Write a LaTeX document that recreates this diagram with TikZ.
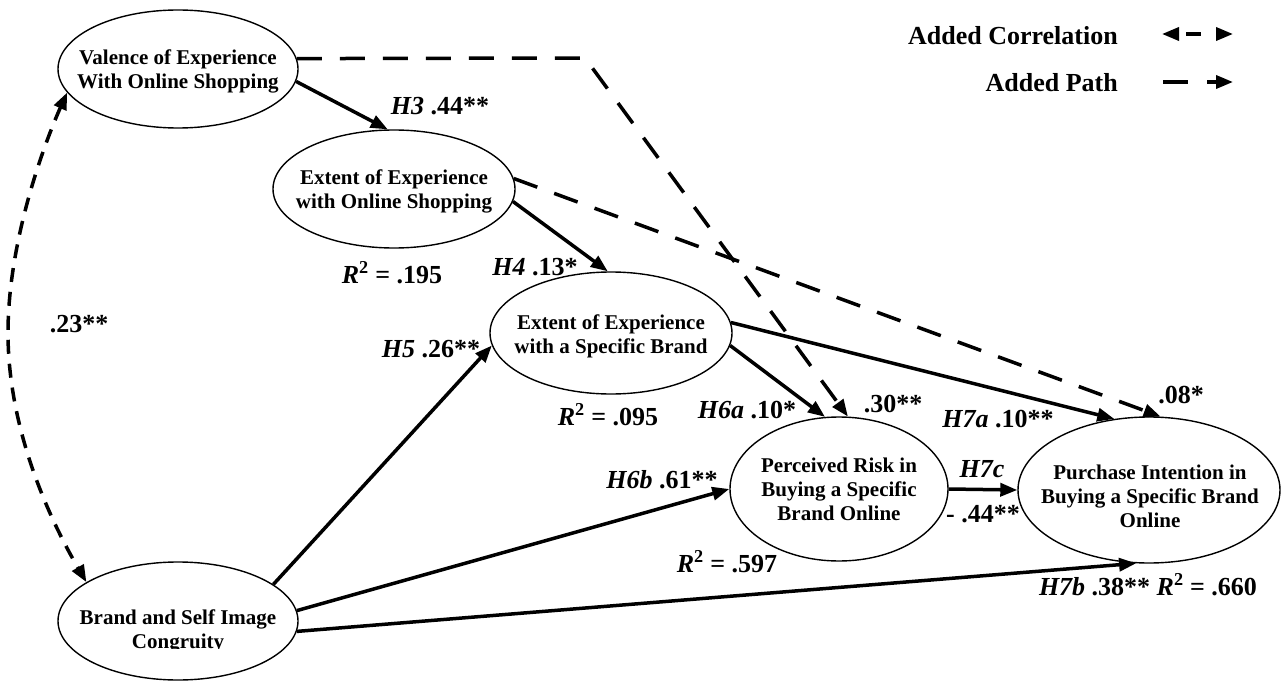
\documentclass[tikz,border=0pt]{standalone}
\usepackage{fontspec}
\setmainfont{Liberation Serif}
\usetikzlibrary{arrows.meta,shapes.geometric}
\begin{document}
\begin{tikzpicture}[x=1pt,y=-1pt,
  construct/.style={draw, ellipse, line width=1.4pt, inner sep=0pt},
  ctext/.style={font=\fontsize{21}{24}\selectfont\bfseries, align=center, inner sep=0pt},
  lab/.style={font=\fontsize{26}{30}\selectfont\bfseries, inner sep=0pt, anchor=base},
  legtext/.style={font=\fontsize{26}{30}\selectfont\bfseries, inner sep=0pt, anchor=base east},
  tip/.style={Triangle[length=17pt,width=13pt]},
  solidarrow/.style={line width=3.5pt, -{Triangle[length=17pt,width=13pt]}},
  addedpath/.style={solidarrow, dash pattern=on 25pt off 18pt},
  addedcorr/.style={line width=3.5pt, dash pattern=on 14pt off 10pt,
    {Triangle[length=17pt,width=13pt]}-{Triangle[length=17pt,width=13pt]}}
]
\useasboundingbox (0,0) rectangle (1283,682);

% constructs
\node[construct, minimum width=240pt, minimum height=118pt] (V)  at (178,69)  {};
\node[construct, minimum width=242pt, minimum height=118pt] (EO) at (394,189) {};
\node[construct, minimum width=242pt, minimum height=122pt] (EB) at (611,333) {};
\node[construct, minimum width=218pt, minimum height=144pt] (PR) at (839,489) {};
\node[construct, minimum width=262pt, minimum height=146pt] (PI) at (1149,490) {};
\node[construct, minimum width=240pt, minimum height=118pt] (BS) at (178,621) {};

\node[ctext] (Vt)  at (178,71)  {Valence of Experience\\With Online Shopping};
\node[ctext] (EOt) at (394,191) {Extent of Experience\\with Online Shopping};
\node[ctext] (EBt) at (611,336) {Extent of Experience\\with a Specific Brand};
\node[ctext] (PRt) at (839,489) {Perceived Risk in\\Buying a Specific\\Brand Online};
\node[ctext] (PIt) at (1150,496) {Purchase Intention in\\Buying a Specific Brand\\Online};
\begin{scope}
  \clip (50,560) rectangle (300,648);
  \node[ctext] (BSt) at (178,631) {Brand and Self Image\\Congruity};
\end{scope}

% hypothesised paths
\draw[solidarrow] (V.-6.2)  -- (EO.96.5);
\draw[solidarrow] (EO.-6.1) -- (EB.93.8);
\draw[solidarrow] (BS.21.4) -- (EB.186.6);
\draw[solidarrow] (BS.5.2)  -- (PR.180.5);
\draw[solidarrow] (BS.-5.7) -- (PI.260.5);
\draw[solidarrow] (EB.-6.6) -- (PR.101);
\draw[solidarrow] (EB.5.2)  -- (PI.116.9);
\draw[solidarrow] (PR.0)    -- (PI.180);

% added paths
\coordinate (bend) at (585,58);
\draw[addedpath] (V.5.2) -- (bend) -- (PR.83.7);
\draw[addedpath] (EO.5.2) -- (PI.81.4);

% added correlation
\coordinate (cmid) at (8,333);
\draw[addedcorr] (V.192.2) .. controls (45,142) and (8,240) .. (cmid)
                 .. controls (8,430) and (50,520) .. (BS.157.3);

% coefficients
\node[lab] (l1)  at (440,115)  {\textit{H3} .44**};
\node[lab] (l2)  at (392,283)  {\textit{R}\textsuperscript{2} = .195};
\node[lab] (l3)  at (535,275)  {\textit{H4} .13*};
\node[lab] (l4)  at (431,357)  {\textit{H5} .26**};
\node[lab] (l5)  at (608,425)  {\textit{R}\textsuperscript{2} = .095};
\node[lab] (l6)  at (747,418)  {\textit{H6a} .10*};
\node[lab] (l7)  at (893,412)  {.30**};
\node[lab] (l8)  at (998,427)  {\textit{H7a} .10**};
\node[lab] (l9)  at (1181,403) {.08*};
\node[lab] (l10) at (982,477)  {\textit{H7c}};
\node[lab] (l11) at (983,522)  {- .44**};
\node[lab] (l12) at (662,488)  {\textit{H6b} .61**};
\node[lab] (l13) at (727,572)  {\textit{R}\textsuperscript{2} = .597};
\node[lab] (l14) at (1148,595) {\textit{H7b} .38** \textit{R}\textsuperscript{2} = .660};
\node[lab] (l15) at (79,332)   {.23**};

% legend
\node[legtext] (lc) at (1118,45) {Added Correlation};
\node[legtext] (lp) at (1118,92) {Added Path};
\coordinate (lc1) at (1162,34);
\coordinate (lc2) at (1233,34);
\coordinate (lp1) at (1163,82);
\coordinate (lp2) at (1233,82);
\draw[line width=3.5pt, dash pattern=on 0pt off 8pt on 15pt off 20pt,
      {Triangle[length=17pt,width=13pt]}-{Triangle[length=17pt,width=13pt]}] (lc1) -- (lc2);
\draw[solidarrow, dash pattern=on 25pt off 19pt] (lp1) -- (lp2);
\end{tikzpicture}
\end{document}
